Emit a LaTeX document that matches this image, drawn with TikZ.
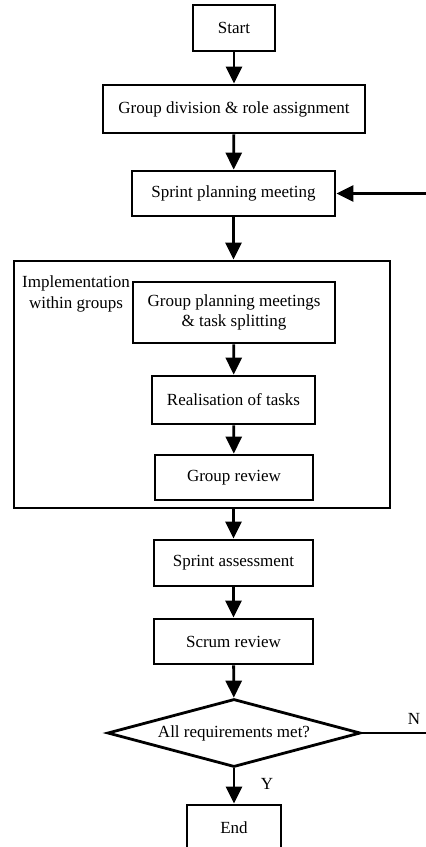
\documentclass[tikz,border=0pt]{standalone}
\usepackage{fontspec}
\setmainfont{Liberation Serif}
\usetikzlibrary{shapes.geometric,arrows.meta}
\begin{document}
\begin{tikzpicture}[x=1pt,y=-1pt,
  box/.style={draw,line width=2.8pt,inner sep=0pt,font=\fontsize{17}{20}\selectfont,align=center},
  arr/.style={line width=2.8pt,-{Triangle[length=17pt,width=16pt]}},
  lbl/.style={font=\fontsize{17}{21}\selectfont,inner sep=0pt}]
\useasboundingbox (0,0) rectangle (426,847);
\clip (0,0) rectangle (426,847);
\node[box,minimum width=82,minimum height=46] (start) at (234,28) {Start};
\node[box,minimum width=262,minimum height=48] (gdiv) at (234,109) {Group division \& role assignment};
\node[box,minimum width=203,minimum height=45] (spm) at (233.5,193.5) {Sprint planning meeting};
\node[box,minimum width=376,minimum height=247] (grp) at (202,384.5) {};
\node[lbl,align=center] (impl) at (76,294) {Implementation\\within groups};
\node[box,minimum width=202,minimum height=61] (gpm) at (234,312.5) {Group planning meetings\\\& task splitting};
\node[box,minimum width=163,minimum height=48] (real) at (233.5,400) {Realisation of tasks};
\node[box,minimum width=158,minimum height=45] (grev) at (234,477.5) {Group review};
\node[box,minimum width=159,minimum height=46] (sass) at (233.5,563) {Sprint assessment};
\node[box,minimum width=159,minimum height=45] (srev) at (233.5,641.5) {Scrum review};
\node[box,shape=diamond,aspect=3.72,minimum width=253,minimum height=68] (dec) at (234,733) {All requirements met?};
\node[box,minimum width=94,minimum height=46] (end) at (234,828) {End};
\node[lbl] (nlab) at (414,719) {N};
\node[lbl] (ylab) at (267,784) {Y};
\coordinate (loopc) at (428,733);
\draw[arr] (start) -- (gdiv);
\draw[arr] (gdiv) -- (spm);
\draw[arr] (spm.south) -- (spm.south |- grp.north);
\draw[arr] (gpm) -- (real);
\draw[arr] (real) -- (grev);
\draw[arr] (grp.south -| sass.north) -- (sass);
\draw[arr] (sass) -- (srev);
\draw[arr] (srev) -- (dec);
\draw[arr] (dec) -- (end);
\draw[arr] (dec.east) -- (loopc) |- (spm.east);
\end{tikzpicture}
\end{document}
